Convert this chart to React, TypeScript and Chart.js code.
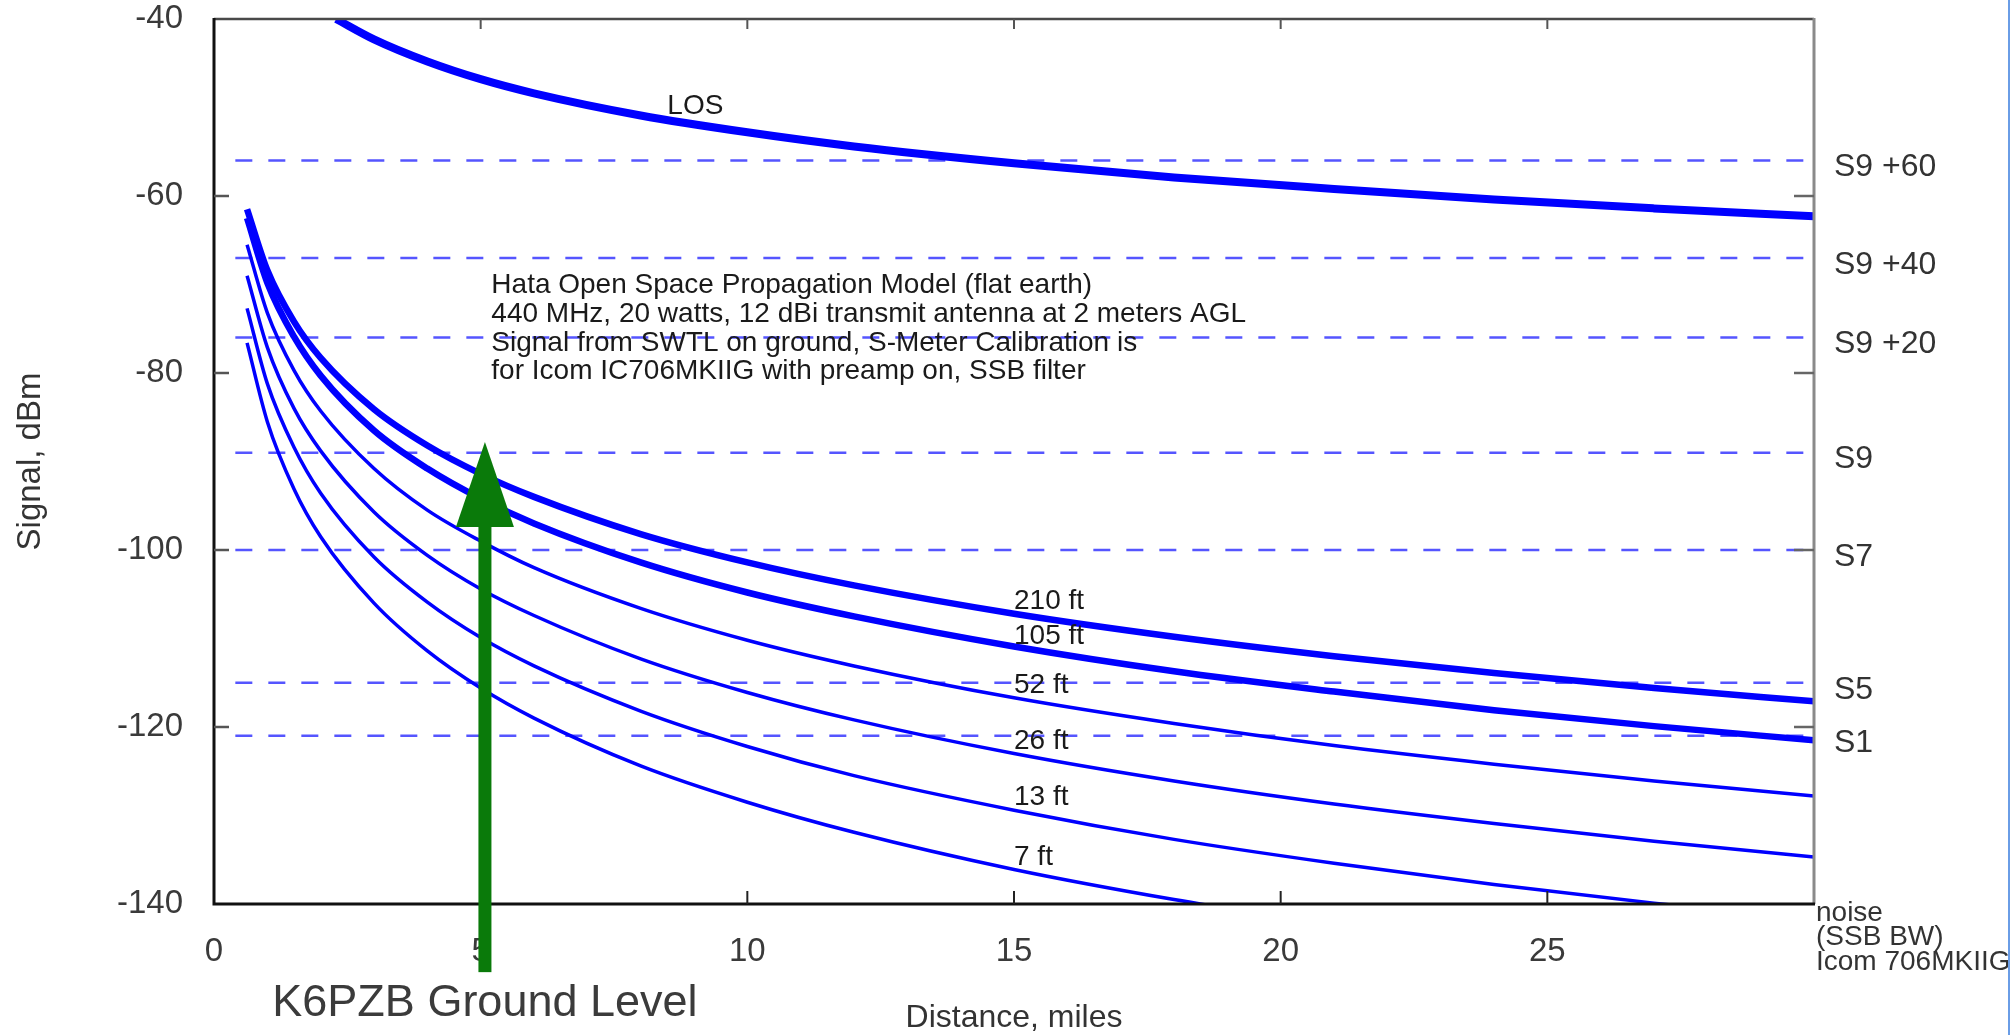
import React, { useEffect, useRef } from 'react';
import { Chart, registerables } from 'chart.js';

Chart.register(...registerables);

const FONT = '"Liberation Sans", Arial, Helvetica, sans-serif';

// Distance (miles) sample points for the Hata curves
const HATA_MILES = [0.62, 1, 1.5, 2, 3, 4, 5, 6, 8, 10, 12, 15, 18, 21, 24, 27, 30];
// Signal (dBm) per receive height
const H210_FT = [-61.5, -68.4, -74.2, -78.3, -84.1, -88.2, -91.4, -94.0, -98.2, -101.4, -104.0, -107.2, -109.8, -112.0, -113.9, -115.6, -117.1];
const H105_FT = [-62.5, -69.8, -75.9, -80.3, -86.5, -90.8, -94.2, -97.0, -101.4, -104.8, -107.5, -110.9, -113.7, -116.0, -118.1, -119.9, -121.5];
const H52_FT = [-65.5, -73.2, -79.7, -84.3, -90.8, -95.5, -99.0, -102.0, -106.6, -110.2, -113.1, -116.7, -119.6, -122.1, -124.2, -126.1, -127.8];
const H26_FT = [-69.0, -77.1, -84.0, -88.8, -95.7, -100.6, -104.4, -107.4, -112.3, -116.1, -119.2, -123.0, -126.1, -128.7, -130.9, -132.9, -134.7];
const H13_FT = [-72.7, -81.2, -88.4, -93.6, -100.8, -105.9, -109.9, -113.1, -118.2, -122.2, -125.5, -129.4, -132.7, -135.4, -137.8, -139.9, -141.8];
const H7_FT = [-76.6, -85.5, -93.1, -98.5, -106.0, -111.4, -115.6, -119.0, -124.4, -128.5, -131.9, -136.1, -139.5, -142.4, null, null, null];

// Line of sight curve
const LOS_MILES = [2.29, 3, 4, 5, 6, 8, 10, 12, 15, 18, 21, 24, 27, 30];
const LOS_DBM = [-40, -42.3, -44.8, -46.8, -48.4, -50.9, -52.8, -54.4, -56.3, -57.9, -59.2, -60.4, -61.4, -62.3];

// S-meter calibration levels
const S_LABELS = ['S9 +60', 'S9 +40', 'S9 +20', 'S9', 'S7', 'S5', 'S1'];
const S_LEVELS = [-56, -67, -76, -89, -100, -115, -121];
const S_LINE_START = 0.4;
const NOISE_LEVEL = -140;
const NOISE_LINES = ['noise', '(SSB BW)', 'Icom 706MKIIG'];

// Curve labels
const CURVE_LABELS = ['LOS', '210 ft', '105 ft', '52 ft', '26 ft', '13 ft', '7 ft'];
const CURVE_LABEL_X = [8.5, 15, 15, 15, 15, 15, 15];
const CURVE_LABEL_Y = [-49.9, -105.8, -109.7, -115.3, -121.6, -127.9, -134.7];

// Note text
const NOTE_LINES = [
  'Hata Open Space Propagation Model (flat earth)',
  '440 MHz, 20 watts, 12 dBi transmit antenna at 2 meters AGL',
  'Signal from SWTL on ground, S-Meter Calibration is',
  'for Icom IC706MKIIG with preamp on, SSB filter',
];
const NOTE_X = 5.2;
const NOTE_Y = -70.1;

// Marker arrow
const ARROW_X = 5.08;
const ARROW_TIP = -87.8;
const ARROW_BASE = -97.4;
const ARROW_BOTTOM = -147.7;
const ARROW_TEXT = 'K6PZB Ground Level';
const ARROW_TEXT_Y = -151.2;

const X_TICKS = [0, 5, 10, 15, 20, 25, 30];
const Y_TICKS = [-140, -120, -100, -80, -60, -40];

const curve = (label: string, xs: number[], ys: (number | null)[], width: number) => ({
  label,
  data: xs.map((x, i) => ({ x, y: ys[i] })),
  borderColor: '#0000ff',
  backgroundColor: '#0000ff',
  borderWidth: width,
  pointRadius: 0,
  fill: false,
  cubicInterpolationMode: 'monotone' as const,
  spanGaps: false,
});

const zeroPad = (s: any) => {
  s.paddingTop = 0;
  s.paddingBottom = 0;
  s.paddingLeft = 0;
  s.paddingRight = 0;
};

const overlay = {
  id: 'overlay',
  afterDatasetsDraw(chart: any) {
    const { ctx, chartArea } = chart;
    const xs = chart.scales.x;
    const ys = chart.scales.y;
    const { left: L, right: R, top: T, bottom: B } = chartArea;
    ctx.save();
    // frame
    ctx.lineCap = 'butt';
    ctx.strokeStyle = '#4a4a4a';
    ctx.lineWidth = 2.5;
    ctx.beginPath(); ctx.moveTo(L, T); ctx.lineTo(R, T); ctx.stroke();
    ctx.strokeStyle = '#8a8a8a';
    ctx.lineWidth = 3;
    ctx.beginPath(); ctx.moveTo(R, T - 1); ctx.lineTo(R, B); ctx.stroke();
    ctx.strokeStyle = '#111';
    ctx.lineWidth = 3;
    ctx.beginPath(); ctx.moveTo(L, T - 1); ctx.lineTo(L, B); ctx.lineTo(R + 1, B); ctx.stroke();
    // inward ticks
    ctx.lineWidth = 2.5;
    Y_TICKS.forEach((v) => {
      if (v === -140 || v === -40) return;
      const y = ys.getPixelForValue(v);
      ctx.strokeStyle = '#555';
      ctx.beginPath(); ctx.moveTo(L, y); ctx.lineTo(L + 15, y); ctx.stroke();
      ctx.strokeStyle = '#666';
      ctx.beginPath(); ctx.moveTo(R, y); ctx.lineTo(R - 20, y); ctx.stroke();
    });
    ctx.lineWidth = 2;
    X_TICKS.forEach((v) => {
      if (v === 0 || v === 30) return;
      const x = xs.getPixelForValue(v);
      ctx.strokeStyle = '#222';
      ctx.beginPath(); ctx.moveTo(x, B); ctx.lineTo(x, B - 13); ctx.stroke();
      ctx.strokeStyle = '#555';
      ctx.beginPath(); ctx.moveTo(x, T); ctx.lineTo(x, T + 10); ctx.stroke();
    });
    // S labels
    ctx.fillStyle = '#333';
    ctx.textAlign = 'left';
    ctx.textBaseline = 'middle';
    ctx.font = `32px ${FONT}`;
    S_LEVELS.forEach((v, i) => {
      ctx.fillText(S_LABELS[i], R + 20, ys.getPixelForValue(v) + 7);
    });
    ctx.font = `28px ${FONT}`;
    const ny = ys.getPixelForValue(NOISE_LEVEL);
    NOISE_LINES.forEach((t, i) => ctx.fillText(t, R + 2, ny + 9 + i * 24.5));
    // curve labels
    ctx.fillStyle = '#1a1a1a';
    CURVE_LABELS.forEach((t, i) => {
      ctx.fillText(t, xs.getPixelForValue(CURVE_LABEL_X[i]), ys.getPixelForValue(CURVE_LABEL_Y[i]));
    });
    // note
    const nx = xs.getPixelForValue(NOTE_X);
    const ny0 = ys.getPixelForValue(NOTE_Y);
    NOTE_LINES.forEach((t, i) => ctx.fillText(t, nx, ny0 + i * 28.7));
    ctx.restore();
  },
  afterDraw(chart: any) {
    const { ctx } = chart;
    const xs = chart.scales.x;
    const ys = chart.scales.y;
    const ax = xs.getPixelForValue(ARROW_X);
    const tip = ys.getPixelForValue(ARROW_TIP);
    const base = ys.getPixelForValue(ARROW_BASE);
    const bottom = ys.getPixelForValue(ARROW_BOTTOM);
    ctx.save();
    ctx.fillStyle = '#0a7a0a';
    ctx.fillRect(ax - 6.5, base - 1, 13, bottom - base + 1);
    ctx.beginPath();
    ctx.moveTo(ax, tip);
    ctx.lineTo(ax + 29, base);
    ctx.lineTo(ax - 29, base);
    ctx.closePath();
    ctx.fill();
    ctx.fillStyle = '#3b3b3b';
    ctx.font = `45px ${FONT}`;
    ctx.textAlign = 'center';
    ctx.textBaseline = 'middle';
    ctx.fillText(ARROW_TEXT, ax, ys.getPixelForValue(ARROW_TEXT_Y));
    ctx.restore();
  },
};

export default function App() {
  const ref = useRef<HTMLCanvasElement | null>(null);
  useEffect(() => {
    if (!ref.current) return;
    const datasets: any[] = [
      curve('LOS', LOS_MILES, LOS_DBM, 8),
      curve('210 ft', HATA_MILES, H210_FT, 6.5),
      curve('105 ft', HATA_MILES, H105_FT, 6.5),
      curve('52 ft', HATA_MILES, H52_FT, 3.5),
      curve('26 ft', HATA_MILES, H26_FT, 3.5),
      curve('13 ft', HATA_MILES, H13_FT, 3.5),
      curve('7 ft', HATA_MILES, H7_FT, 3.5),
      ...S_LEVELS.map((v, i) => ({
        label: S_LABELS[i],
        data: [{ x: S_LINE_START, y: v }, { x: 30, y: v }],
        borderColor: '#5555ff',
        borderWidth: 2.5,
        borderDash: [17, 16],
        pointRadius: 0,
        fill: false,
      })),
    ];
    const chart = new Chart(ref.current, {
      type: 'line',
      data: { datasets },
      plugins: [overlay],
      options: {
        animation: false,
        responsive: false,
        devicePixelRatio: 1,
        layout: { padding: { left: 0, top: 19, right: 197, bottom: 0 }, autoPadding: false },
        plugins: { legend: { display: false }, tooltip: { enabled: false } },
        scales: {
          x: {
            type: 'linear',
            min: 0,
            max: 30,
            position: 'bottom',
            afterBuildTicks: (s: any) => { s.ticks = X_TICKS.map((v) => ({ value: v })); },
            ticks: {
              padding: 28,
              color: '#3a3a3a',
              font: { family: FONT, size: 33 },
              maxRotation: 0,
              autoSkip: false,
              callback: (v: any) => (v === 30 ? '' : String(v)),
            },
            grid: { display: false, drawTicks: false },
            border: { display: false },
            title: {
              display: true,
              text: 'Distance, miles',
              color: '#333',
              font: { family: FONT, size: 32, lineHeight: 1 },
              padding: { top: 0, bottom: 1 },
            },
            afterFit: (s: any) => { s.height = 131; zeroPad(s); },
          },
          y: {
            type: 'linear',
            min: -140,
            max: -40,
            position: 'left',
            afterBuildTicks: (s: any) => { s.ticks = Y_TICKS.map((v) => ({ value: v })); },
            ticks: {
              padding: 31,
              color: '#3a3a3a',
              font: { family: FONT, size: 33 },
              autoSkip: false,
            },
            grid: { display: false, drawTicks: false },
            border: { display: false },
            title: {
              display: true,
              text: 'Signal, dBm',
              color: '#333',
              font: { family: FONT, size: 33, lineHeight: 1 },
              padding: { top: 14, bottom: 0 },
            },
            afterFit: (s: any) => { s.width = 214; zeroPad(s); },
          },
        },
      } as any,
    });
    return () => chart.destroy();
  }, []);

  return (
    <div style={{ position: 'fixed', left: 0, top: 0, width: 2011, height: 1035, background: '#fff' }}>
      <canvas ref={ref} width={2011} height={1035} style={{ display: 'block', width: 2011, height: 1035 }} />
      <div style={{ position: 'absolute', left: 2008, top: 0, width: 2, height: 1035, background: '#6a9de6' }} />
    </div>
  );
}
